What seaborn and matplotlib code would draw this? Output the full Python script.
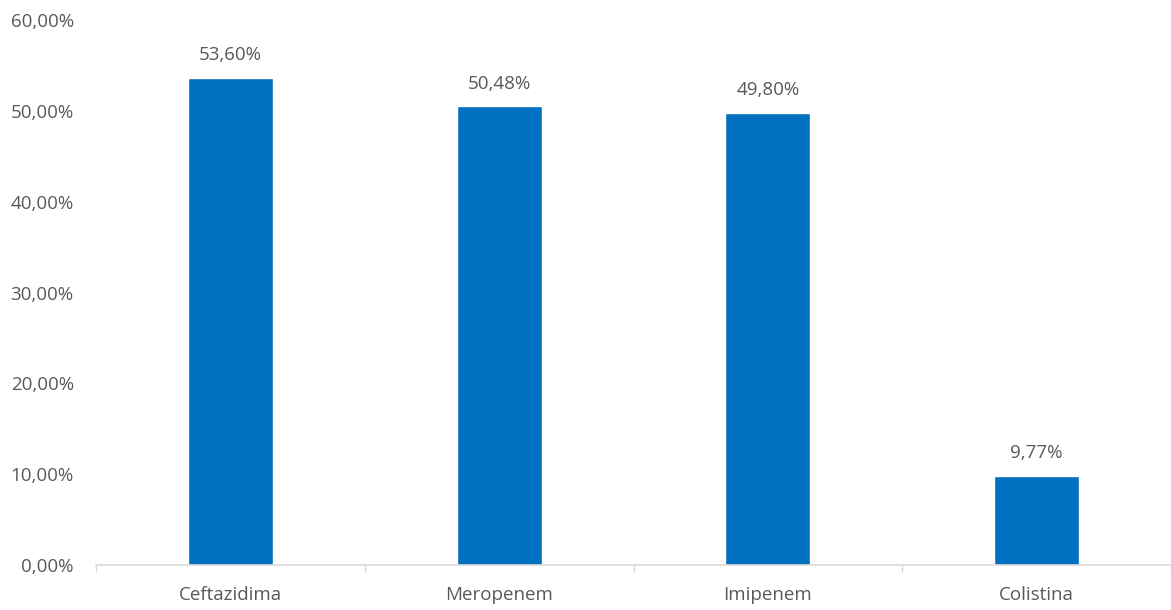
import matplotlib
matplotlib.use("Agg")
import matplotlib.pyplot as plt
from matplotlib.ticker import FuncFormatter, FixedLocator
import seaborn as sns
import pandas as pd

antibiotics = ["Ceftazidima", "Meropenem", "Imipenem", "Colistina"]
resistance_pct = [53.60, 50.48, 49.80, 9.77]
y_ticks = [0, 10, 20, 30, 40, 50, 60]

df = pd.DataFrame({"antibiotic": antibiotics, "pct": resistance_pct})

sns.set_theme(style="white")
plt.rcParams["font.family"] = ["Open Sans", "DejaVu Sans"]

text_color = "#595959"
axis_color = "#d9d9d9"
bar_color = "#0070c0"
fs = 13.5

fig = plt.figure(figsize=(11.71, 6.10), dpi=100)
ax = fig.add_axes([96 / 1171, 45 / 610, 1 - 96 / 1171, (565 - 20) / 610])

sns.barplot(data=df, x="antibiotic", y="pct", color=bar_color, width=0.316,
            saturation=1, ax=ax)

ax.set_ylim(0, 60)
ax.set_xlim(-0.5, len(antibiotics) - 0.5)
ax.yaxis.set_major_locator(FixedLocator(y_ticks))
ax.yaxis.set_major_formatter(FuncFormatter(lambda v, _: f"{v:.2f}%".replace(".", ",")))
ax.set_xlabel("")
ax.set_ylabel("")

for s in ["top", "right", "left"]:
    ax.spines[s].set_visible(False)
ax.spines["bottom"].set_color(axis_color)
ax.spines["bottom"].set_linewidth(1.2)

ax.tick_params(axis="y", length=0, labelsize=fs, labelcolor=text_color, pad=16)
ax.tick_params(axis="x", length=0, labelsize=fs, labelcolor=text_color, pad=15)

# category separators on the baseline
ax.set_xticks([i - 0.5 for i in range(len(antibiotics) + 1)], minor=True)
ax.tick_params(axis="x", which="minor", bottom=True, length=5, color=axis_color,
               width=1.0, direction="out")

labels = [f"{v:.2f}%".replace(".", ",") for v in resistance_pct]
ax.bar_label(ax.containers[0], labels=labels, padding=10, fontsize=fs,
             color=text_color)

fig.savefig("out.png", dpi=100)
